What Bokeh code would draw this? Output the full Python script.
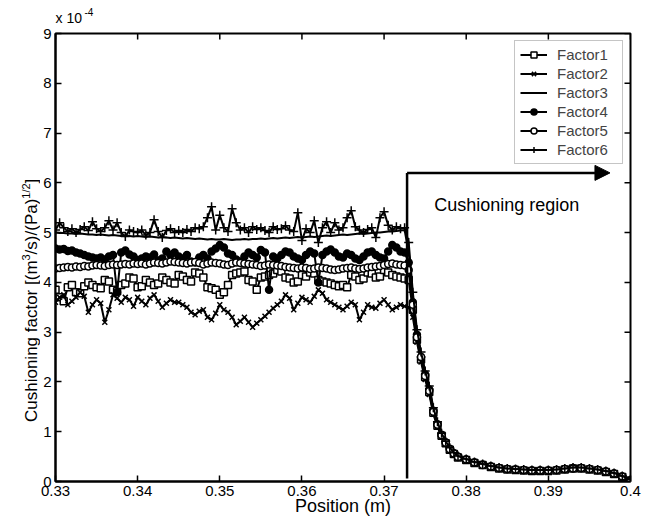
import math
from bokeh.plotting import figure
from bokeh.layouts import column, row
from bokeh.models import (Range1d, FixedTicker, Legend, LegendItem, Label, Arrow, NormalHead)
from bokeh.embed import file_html
from bokeh.resources import INLINE

FONT = "Liberation Sans"

# ---------------- data (cushioning factor, in units of 1e-4) ----------------
x_flat = [0.3300, 0.3305, 0.3310, 0.3315, 0.3320, 0.3325, 0.3330, 0.3335, 0.3340, 0.3345,
          0.3350, 0.3355, 0.3360, 0.3365, 0.3370, 0.3375, 0.3380, 0.3385, 0.3390, 0.3395,
          0.3400, 0.3405, 0.3410, 0.3415, 0.3420, 0.3425, 0.3430, 0.3435, 0.3440, 0.3445,
          0.3450, 0.3455, 0.3460, 0.3465, 0.3470, 0.3475, 0.3480, 0.3485, 0.3490, 0.3495,
          0.3500, 0.3505, 0.3510, 0.3515, 0.3520, 0.3525, 0.3530, 0.3535, 0.3540, 0.3545,
          0.3550, 0.3555, 0.3560, 0.3565, 0.3570, 0.3575, 0.3580, 0.3585, 0.3590, 0.3595,
          0.3600, 0.3605, 0.3610, 0.3615, 0.3620, 0.3625, 0.3630, 0.3635, 0.3640, 0.3645,
          0.3650, 0.3655, 0.3660, 0.3665, 0.3670, 0.3675, 0.3680, 0.3685, 0.3690, 0.3695,
          0.3700, 0.3705, 0.3710, 0.3715, 0.3720, 0.3725]
x_decay = [0.3730, 0.3735, 0.3740, 0.3745, 0.3750, 0.3755, 0.3760, 0.3765, 0.3770,
           0.3775, 0.3780, 0.3785, 0.3790, 0.380, 0.381, 0.382, 0.383, 0.384,
           0.385, 0.386, 0.387, 0.388, 0.389, 0.390, 0.391, 0.392, 0.393, 0.394,
           0.395, 0.396, 0.397, 0.398, 0.399, 0.400]

factor1_flat = [3.85, 3.70, 3.62, 3.90, 3.95, 3.80, 3.78, 3.92, 4.00, 3.95,
                3.90, 3.88, 4.05, 4.02, 3.85, 3.82, 3.95, 3.98, 4.10, 4.08,
                3.90, 3.92, 4.05, 4.00, 3.95, 3.98, 4.10, 4.05, 4.00, 3.98,
                4.15, 4.12, 4.05, 4.02, 4.20, 4.18, 4.10, 3.90, 3.88, 3.85,
                3.75, 3.80, 3.95, 4.15, 4.18, 4.20, 4.22, 4.05, 4.02, 3.85,
                4.10, 4.12, 4.15, 4.18, 4.25, 4.22, 4.10, 4.08, 4.00, 4.02,
                4.15, 4.12, 4.20, 4.18, 4.05, 4.02, 4.00, 3.98, 3.95, 3.92,
                3.95, 3.90, 4.15, 4.12, 4.05, 4.08, 4.20, 4.18, 4.10, 4.12,
                4.25, 4.20, 4.15, 4.12, 4.10, 4.08]
factor2_flat = [3.60, 3.70, 3.75, 3.55, 3.62, 3.70, 3.80, 3.72, 3.40, 3.55,
                3.65, 3.58, 3.20, 3.45, 3.75, 3.68, 3.60, 3.70, 3.65, 3.52,
                3.70, 3.62, 3.55, 3.68, 3.75, 3.62, 3.50, 3.58, 3.65, 3.60,
                3.60, 3.55, 3.50, 3.40, 3.35, 3.42, 3.45, 3.30, 3.25, 3.38,
                3.55, 3.45, 3.40, 3.30, 3.15, 3.22, 3.30, 3.20, 3.10, 3.18,
                3.25, 3.32, 3.40, 3.48, 3.55, 3.62, 3.75, 3.68, 3.45, 3.58,
                3.70, 3.65, 3.60, 3.72, 3.85, 3.78, 3.65, 3.60, 3.55, 3.50,
                3.45, 3.52, 3.60, 3.55, 3.25, 3.40, 3.55, 3.50, 3.48, 3.58,
                3.65, 3.55, 3.45, 3.50, 3.55, 3.52]
factor3_flat = [5.00, 4.99, 4.99, 4.98, 4.98, 4.97, 4.98, 4.97, 4.96, 4.96,
                4.95, 4.96, 4.95, 4.94, 4.95, 4.94, 4.93, 4.94, 4.93, 4.92,
                4.93, 4.92, 4.91, 4.92, 4.91, 4.90, 4.91, 4.90, 4.89, 4.90,
                4.89, 4.88, 4.89, 4.88, 4.87, 4.88, 4.87, 4.86, 4.87, 4.86,
                4.86, 4.87, 4.86, 4.85, 4.86, 4.86, 4.87, 4.86, 4.87, 4.87,
                4.88, 4.87, 4.88, 4.89, 4.88, 4.89, 4.90, 4.89, 4.90, 4.91,
                4.90, 4.91, 4.92, 4.91, 4.92, 4.93, 4.94, 4.93, 4.94, 4.95,
                4.96, 4.95, 4.96, 4.97, 4.98, 4.97, 4.98, 4.99, 5.00, 5.00,
                5.01, 5.02, 5.02, 5.03, 5.04, 5.05]
factor4_flat = [4.68, 4.66, 4.67, 4.63, 4.64, 4.60, 4.58, 4.55, 4.52, 4.50,
                4.48, 4.50, 4.46, 4.52, 4.55, 3.80, 4.60, 4.64, 4.56, 4.52,
                4.45, 4.48, 4.52, 4.50, 4.56, 4.44, 4.48, 4.62, 4.55, 4.60,
                4.52, 4.48, 4.55, 4.42, 4.40, 4.50, 4.55, 4.48, 4.62, 4.68,
                4.75, 4.70, 4.58, 4.55, 4.46, 4.42, 4.52, 4.60, 4.55, 4.50,
                4.65, 4.60, 3.85, 4.52, 4.48, 4.55, 4.62, 4.60, 4.52, 4.48,
                4.45, 4.55, 4.62, 4.58, 4.00, 4.55, 4.62, 4.66, 4.60, 4.52,
                4.50, 4.58, 4.55, 4.48, 4.45, 4.52, 4.60, 4.62, 4.55, 4.50,
                4.48, 4.62, 4.75, 4.70, 4.62, 4.60]
factor5_flat = [4.28, 4.29, 4.30, 4.31, 4.30, 4.32, 4.31, 4.33, 4.32, 4.34,
                4.35, 4.34, 4.33, 4.35, 4.36, 4.35, 4.36, 4.37, 4.36, 4.38,
                4.37, 4.38, 4.36, 4.38, 4.40, 4.39, 4.38, 4.40, 4.42, 4.41,
                4.40, 4.39, 4.38, 4.40, 4.41, 4.39, 4.36, 4.38, 4.40, 4.39,
                4.38, 4.36, 4.35, 4.38, 4.40, 4.39, 4.38, 4.37, 4.36, 4.35,
                4.33, 4.34, 4.36, 4.35, 4.34, 4.33, 4.31, 4.30, 4.29, 4.28,
                4.30, 4.29, 4.27, 4.28, 4.30, 4.29, 4.28, 4.26, 4.25, 4.26,
                4.28, 4.29, 4.30, 4.28, 4.27, 4.28, 4.30, 4.31, 4.32, 4.33,
                4.35, 4.37, 4.38, 4.36, 4.35, 4.34]
factor6_flat = [5.05, 5.20, 5.10, 5.02, 5.08, 5.00, 5.06, 5.12, 5.04, 5.22,
                5.08, 5.02, 5.10, 5.24, 5.05, 5.20, 5.00, 4.92, 5.05, 5.02,
                5.00, 5.05, 4.95, 5.00, 5.26, 5.02, 4.90, 5.04, 5.08, 5.00,
                5.04, 5.00, 5.06, 5.02, 5.10, 5.08, 5.12, 5.30, 5.52, 5.05,
                5.35, 5.10, 5.02, 5.48, 5.20, 5.05, 5.10, 5.00, 5.12, 5.06,
                5.10, 5.04, 5.00, 5.12, 5.06, 5.08, 5.14, 5.05, 5.02, 5.40,
                4.84, 5.08, 5.00, 5.24, 4.80, 5.10, 5.22, 5.00, 5.20, 5.05,
                5.10, 5.30, 5.44, 5.12, 5.05, 5.00, 5.06, 5.10, 4.90, 5.30,
                5.42, 5.15, 5.05, 5.12, 5.08, 5.10]

factor1_decay = [4.05, 3.45, 2.85, 2.45, 2.10, 1.80, 1.38, 1.12, 0.92, 0.77, 0.64, 0.55,
                 0.48, 0.43, 0.37, 0.33, 0.29, 0.26, 0.24, 0.23, 0.22, 0.21, 0.21, 0.21,
                 0.22, 0.24, 0.26, 0.26, 0.24, 0.22, 0.19, 0.15, 0.09, 0.02]
factor2_decay = [3.50, 3.30, 2.80, 2.40, 2.05, 1.75, 1.35, 1.10, 0.90, 0.75, 0.62, 0.54,
                 0.47, 0.42, 0.36, 0.32, 0.28, 0.26, 0.24, 0.22, 0.21, 0.21, 0.20, 0.21,
                 0.22, 0.24, 0.26, 0.27, 0.25, 0.23, 0.20, 0.16, 0.10, 0.03]
factor3_decay = [4.60, 3.70, 3.00, 2.55, 2.20, 1.90, 1.45, 1.18, 0.95, 0.80, 0.67, 0.57,
                 0.50, 0.45, 0.39, 0.35, 0.31, 0.28, 0.26, 0.25, 0.24, 0.23, 0.23, 0.23,
                 0.24, 0.25, 0.27, 0.28, 0.26, 0.24, 0.21, 0.17, 0.11, 0.03]
factor4_decay = [4.40, 3.60, 2.95, 2.50, 2.15, 1.85, 1.42, 1.15, 0.94, 0.79, 0.66, 0.57,
                 0.50, 0.44, 0.38, 0.34, 0.30, 0.27, 0.25, 0.24, 0.23, 0.22, 0.22, 0.22,
                 0.23, 0.25, 0.27, 0.27, 0.25, 0.23, 0.20, 0.16, 0.10, 0.02]
factor5_decay = [4.25, 3.55, 2.90, 2.50, 2.12, 1.82, 1.40, 1.14, 0.93, 0.78, 0.65, 0.56,
                 0.49, 0.44, 0.38, 0.33, 0.30, 0.27, 0.25, 0.24, 0.23, 0.22, 0.22, 0.22,
                 0.23, 0.25, 0.26, 0.27, 0.25, 0.23, 0.20, 0.16, 0.10, 0.02]
factor6_decay = [4.80, 3.80, 3.05, 2.60, 2.22, 1.92, 1.48, 1.20, 0.97, 0.81, 0.68, 0.58,
                 0.51, 0.45, 0.39, 0.35, 0.31, 0.28, 0.26, 0.25, 0.24, 0.23, 0.23, 0.23,
                 0.24, 0.26, 0.28, 0.28, 0.26, 0.24, 0.21, 0.17, 0.11, 0.04]

labels = ["Factor1", "Factor2", "Factor3", "Factor4", "Factor5", "Factor6"]

x_ticks = [0.33, 0.34, 0.35, 0.36, 0.37, 0.38, 0.39, 0.40]
x_tick_labels = ["0.33", "0.34", "0.35", "0.36", "0.37", "0.38", "0.39", "0.4"]
y_ticks = [0, 1, 2, 3, 4, 5, 6, 7, 8, 9]

# cushioning-region marker
cush_x = 0.3728
cush_y0 = 0.06
cush_y1 = 6.2
arrow_end_x = 0.3975

xr = Range1d(0.33, 0.40)
yr = Range1d(0, 9)


def strip(width, height, x_range, y_range, **kw):
    f = figure(width=width, height=height, x_range=x_range, y_range=y_range,
               output_backend="svg", toolbar_location=None,
               x_axis_location=None, y_axis_location=None,
               min_border_left=kw.get("left", 0), min_border_right=kw.get("right", 0),
               min_border_top=kw.get("top", 0), min_border_bottom=kw.get("bottom", 0))
    f.grid.visible = False
    f.outline_line_color = None
    f.background_fill_color = "white"
    f.border_fill_color = "white"
    return f


# ---------------- main figure ----------------
p = figure(width=610, height=493, x_range=xr, y_range=yr,
           output_backend="svg", toolbar_location=None,
           min_border_left=14, min_border_right=20, min_border_top=7, min_border_bottom=38)
p.grid.visible = False
p.background_fill_color = "white"
p.border_fill_color = "white"
p.outline_line_color = "black"
p.outline_line_width = 2

p.xaxis.ticker = FixedTicker(ticks=x_ticks)
p.xaxis.major_label_overrides = dict(zip(x_ticks, x_tick_labels))
p.yaxis.ticker = FixedTicker(ticks=y_ticks)
for ax in p.axis:
    ax.axis_line_color = "black"
    ax.axis_line_width = 2
    ax.major_tick_in = 6
    ax.major_tick_out = 0
    ax.major_tick_line_width = 1.5
    ax.major_tick_line_color = "black"
    ax.minor_tick_line_color = None
    ax.major_label_text_font = FONT
    ax.major_label_text_font_size = "15px"
    ax.major_label_text_color = "black"
    ax.major_label_standoff = 4

p.xaxis.axis_label = "Position (m)"
p.xaxis.axis_label_text_font = FONT
p.xaxis.axis_label_text_font_size = "18px"
p.xaxis.axis_label_text_font_style = "normal"
p.xaxis.axis_label_text_color = "black"
p.xaxis.axis_label_standoff = -3

# inward ticks on the right and top edges of the box
p.scatter([xr.end] * len(y_ticks), y_ticks, marker="dash", size=12,
          line_color="black", line_width=1.5)
p.scatter(x_ticks, [yr.end] * len(x_ticks), marker="dash", size=12, angle=math.pi / 2,
          line_color="black", line_width=1.5)

# ---------------- series ----------------
x_all = x_flat + x_decay
series_y = [factor1_flat + factor1_decay, factor2_flat + factor2_decay,
            factor3_flat + factor3_decay, factor4_flat + factor4_decay,
            factor5_flat + factor5_decay, factor6_flat + factor6_decay]
styles = [("square", "white", 7), ("x", "black", 7), (None, None, 0),
          ("circle", "black", 7), ("circle", "white", 7), ("cross", "black", 9)]

items = []
for lab, ys, (mk, fill, sz) in zip(labels, series_y, styles):
    rs = [p.line(x_all, ys, line_color="black", line_width=2.0)]
    if mk is not None:
        rs.append(p.scatter(x_all, ys, marker=mk, size=sz, line_color="black",
                            fill_color=fill, line_width=1.5))
    items.append(LegendItem(label=lab, renderers=rs))

legend = Legend(items=items, location="top_right", margin=7, padding=5, spacing=2,
                label_height=15, glyph_height=15, glyph_width=27, label_width=60,
                label_standoff=10, label_text_font=FONT, label_text_font_size="15px",
                border_line_color="#8c8c8c", border_line_width=1,
                background_fill_color="white", background_fill_alpha=1.0)
p.add_layout(legend)

# ---------------- cushioning region marker ----------------
p.segment(x0=[cush_x], y0=[cush_y0], x1=[cush_x], y1=[cush_y1],
          line_color="black", line_width=2.5)
p.add_layout(Arrow(end=NormalHead(size=15, fill_color="black", line_color="black"),
                   x_start=cush_x, y_start=cush_y1, x_end=arrow_end_x, y_end=cush_y1,
                   line_color="black", line_width=2.5))
p.add_layout(Label(x=0.3761, y=5.56, text="Cushioning region", text_font=FONT,
                   text_font_size="18px", text_baseline="middle", text_align="left",
                   text_color="black"))

# ---------------- top strip: exponent note ----------------
top = strip(650, 26, xr, Range1d(26, 0), left=54, right=20)
top.add_layout(Label(x=0.33012, y=17, text="x 10", text_font=FONT, text_font_size="14px",
                     text_baseline="middle", text_align="left", text_color="black"))
top.add_layout(Label(x=0.33365, y=11, text="-4", text_font=FONT, text_font_size="10px",
                     text_baseline="middle", text_align="left", text_color="black"))

# ---------------- left strip: y-axis title ----------------
left = strip(40, 493, Range1d(0, 40), yr, top=7, bottom=38)
ylab_parts = [("Cushioning factor [(m", 31, 1.195, "17px"),
              ("3", 25, 4.440, "11px"),
              ("/s)/(Pa)", 31, 4.5625, "17px"),
              ("1/2", 25, 5.681, "11px"),
              ("]", 31, 5.988, "17px")]
for txt, xx, yy, fs in ylab_parts:
    left.add_layout(Label(x=xx, y=yy, text=txt, angle=math.pi / 2, text_font=FONT,
                          text_font_size=fs, text_baseline="middle", text_align="left",
                          text_color="black"))

layout = column(top, row(left, p))
open("out.html", "w").write(file_html(layout, INLINE))
